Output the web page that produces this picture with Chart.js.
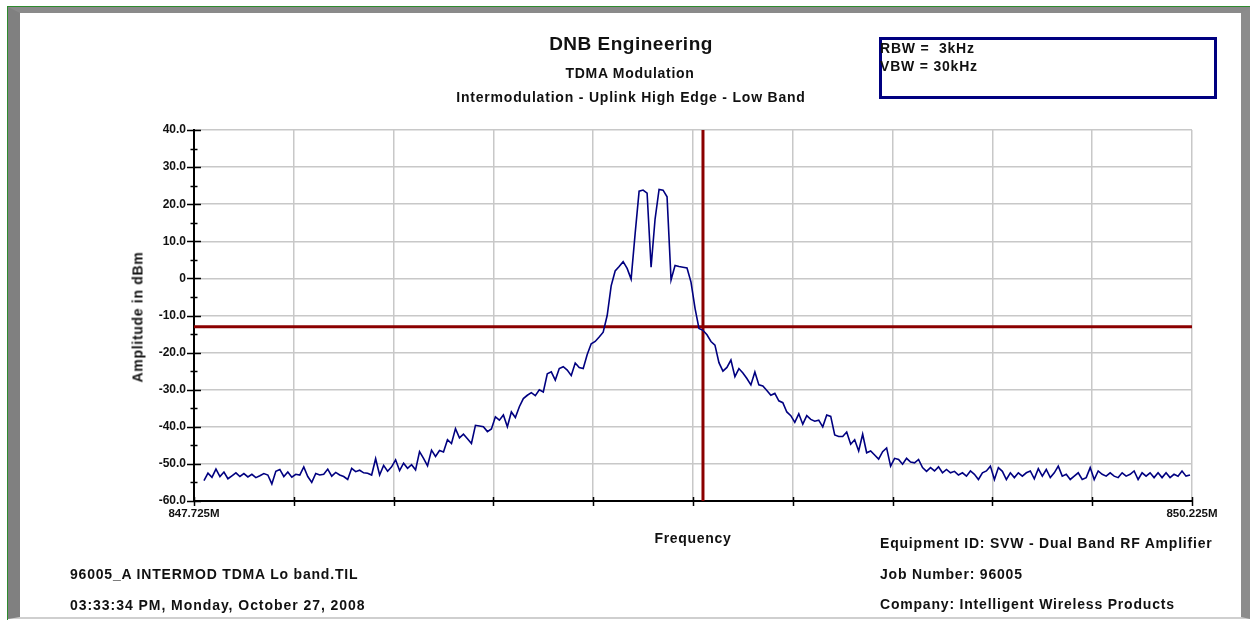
<!DOCTYPE html>
<html>
<head>
<meta charset="utf-8">
<title>DNB Engineering - TDMA Modulation</title>
<script src="https://cdn.jsdelivr.net/npm/chart.js@4.4.1/dist/chart.umd.min.js"></script>
<style>
  html, body { margin: 0; padding: 0; background: #fff; }
  body {
    width: 1250px; height: 620px; position: relative; overflow: hidden;
    font-family: "Liberation Sans", Arial, sans-serif; font-weight: bold; color: #111;
  }
  .edge { position: absolute; left: 7px; top: 6px; width: 1260px; height: 640px;
          border-left: 1px solid #2e8b2e; border-top: 1px solid #2e8b2e; }
  .panel { position: absolute; left: 8px; top: 7px; width: 1242px; height: 612px; box-sizing: border-box;
           border-left: 12px solid #808080; border-top: 6px solid #8a8a8a;
           border-right: 9px solid #8c8c8c; border-bottom: 2px solid #cfcfcf; background: #fff; }
  #plot { position: absolute; left: 0; top: 0; }
  .t { position: absolute; white-space: nowrap; font-size: 14px; line-height: 17px; letter-spacing: 0.8px; }
  .c { transform: translate(-50%, -50%); }
  .l { transform: translateY(-50%); }
  .title { font-size: 19px; line-height: 22px; letter-spacing: 0.5px; }
  .ytitle { transform: translate(-50%, -50%) rotate(-90deg); }
  .bwbox { position: absolute; left: 879px; top: 37px; width: 338px; height: 62px;
           box-sizing: border-box; border: 3px solid #000080; }
</style>
</head>
<body>
<div class="edge"></div>
<div class="panel"></div>
<canvas id="plot" width="1250" height="620"></canvas>

<div class="t c title" style="left:631px; top:44px;">DNB Engineering</div>
<div class="t c" style="left:630px; top:73px; letter-spacing:0.7px;">TDMA Modulation</div>
<div class="t c" style="left:631px; top:97px;">Intermodulation - Uplink High Edge - Low Band</div>

<div class="bwbox"></div>
<div class="t l" style="left:880px; top:48px;">RBW =&nbsp; 3kHz</div>
<div class="t l" style="left:880px; top:66px;">VBW = 30kHz</div>

<div class="t ytitle" style="left:138px; top:317px; letter-spacing:0.7px;">Amplitude in dBm</div>
<div class="t c" style="left:693px; top:538px; letter-spacing:0.7px;">Frequency</div>

<div class="t l" style="left:70px; top:574px;">96005_A INTERMOD TDMA Lo band.TIL</div>
<div class="t l" style="left:70px; top:605px; letter-spacing:0.95px;">03:33:34 PM, Monday, October 27, 2008</div>
<div class="t l" style="left:880px; top:543px;">Equipment ID: SVW - Dual Band RF Amplifier</div>
<div class="t l" style="left:880px; top:574px;">Job Number: 96005</div>
<div class="t l" style="left:880px; top:604px;">Company: Intelligent Wireless Products</div>

<script>
// Sweep: 847.75 MHz to 850.22 MHz, one reading every 10 kHz
var FREQ_START_MHZ = 847.75;
var FREQ_STEP_MHZ = 0.01;

var AMPLITUDE_DBM = [
  -54.5, -52.5, -53.6, -51.4, -53.4, -52.2, -54.0, -53.2, -52.4, -53.4,
  -52.6, -53.5, -52.8, -53.7, -53.2, -52.6, -53.0, -55.4, -52.0, -51.5,
  -53.4, -52.2, -53.6, -52.8, -53.0, -50.8, -53.4, -55.0, -52.6, -53.0,
  -52.8, -51.4, -53.3, -52.3, -53.0, -53.4, -54.2, -51.2, -52.1, -51.7,
  -52.4, -52.5, -53.0, -48.6, -53.0, -50.4, -52.0, -50.8, -48.9, -51.8,
  -49.8, -51.2, -50.2, -51.6, -46.7, -48.5, -50.5, -46.3, -48.0, -46.4,
  -46.8, -43.5, -44.5, -40.5, -43.0, -42.0, -43.2, -44.5, -39.6, -39.8,
  -40.0, -41.3, -40.6, -37.3, -38.2, -36.8, -40.0, -36.0, -37.5, -34.6,
  -32.4, -31.5,
  -30.8, -31.6, -30.0, -30.6, -25.7, -25.2, -27.4, -24.3, -23.8, -24.7,
  -26.2, -22.8, -24.0, -24.3, -20.5, -17.6, -17.0, -15.8, -14.5, -10.0,
  -2.0, 2.0, 3.2, 4.5, 2.7, -0.2, 12.0, 23.5, 23.8, 23.0,
  3.0, 16.0, 24.0, 23.8, 22.0, -0.4, 3.5, 3.2, 3.0, 2.8,
  -1.0, -8.0, -13.5, -14.0, -15.2, -17.0, -18.0, -22.7, -25.0, -24.0,
  -22.0, -26.5, -24.3, -25.5, -27.0, -28.7, -25.2, -28.7, -29.0, -30.2,
  -31.5, -31.0, -33.0, -33.5, -36.0, -37.0, -38.8, -36.5, -39.3, -37.0,
  -38.0, -38.5, -38.2, -40.0, -36.8, -37.2, -42.2, -42.6, -42.6, -41.4,
  -44.7, -43.5, -46.5,
  -42.0, -47.0, -46.5, -47.6, -48.7, -46.7, -45.7, -50.6, -48.5, -48.8,
  -50.1, -48.5, -49.5, -49.7, -48.8, -51.0, -52.0, -51.0, -51.9, -50.8,
  -52.4, -51.5, -52.4, -52.0, -53.0, -52.4, -53.3, -51.9, -52.8, -54.2,
  -52.4, -51.9, -50.6, -54.2, -51.0, -52.0, -54.2, -52.4, -53.7, -52.4,
  -53.3, -52.4, -51.9, -54.0, -51.3, -53.3, -51.5, -53.7, -52.4, -50.6,
  -53.3, -52.8, -54.2, -53.3, -52.4, -54.2, -53.7, -51.0, -54.2, -51.9,
  -52.8, -53.3, -52.4, -53.3, -53.7, -52.4, -53.3, -52.8, -51.9, -54.2,
  -52.4, -53.3, -52.4, -53.7, -52.4, -53.7, -52.4, -53.7, -52.8, -53.3,
  -51.9, -53.3, -53.0
];

var X_TICKS = [847.725, 847.975, 848.225, 848.475, 848.725, 848.975,
               849.225, 849.475, 849.725, 849.975, 850.225];
var X_TICK_LABELS = ["847.725M", "", "", "", "", "", "", "", "", "", "850.225M"];

var Y_MIN = -60;
var Y_MAX = 40;

// marker cross-hair
var MARKER_FREQ_MHZ = 849.0;
var MARKER_LEVEL_DBM = -13.0;

var TRACE = "#000080";
var MARKER = "#8b0000";
var GRID = "#c8c8c8";

var tracePoints = AMPLITUDE_DBM.map(function (v, i) {
  return { x: FREQ_START_MHZ + i * FREQ_STEP_MHZ, y: v };
});

// tick marks that straddle both axes (major every 10 dB, minor every 5 dB)
var axisTicks = {
  id: "axisTicks",
  afterDraw: function (chart) {
    var ctx = chart.ctx;
    var xs = chart.scales.x;
    var ys = chart.scales.y;
    var a = chart.chartArea;
    ctx.save();
    ctx.strokeStyle = "#000";
    ctx.lineWidth = 1.5;
    ctx.beginPath();
    for (var v = Y_MIN; v <= Y_MAX; v += 5) {
      var py = Math.round(ys.getPixelForValue(v)) + 0.5;
      var half = v % 10 === 0 ? 7 : 3.5;
      ctx.moveTo(a.left - half, py);
      ctx.lineTo(a.left + half, py);
    }
    X_TICKS.forEach(function (f) {
      var px = Math.round(xs.getPixelForValue(f)) + 0.5;
      ctx.moveTo(px, a.bottom - 4);
      ctx.lineTo(px, a.bottom + 5);
    });
    ctx.stroke();
    ctx.restore();
  },
};

Chart.defaults.font.family = "'Liberation Sans', Arial, sans-serif";
Chart.defaults.font.weight = "bold";
Chart.defaults.font.size = 11;
Chart.defaults.color = "#111";

new Chart(document.getElementById("plot"), {
  type: "line",
  data: {
    datasets: [
      {
        label: "Trace",
        data: tracePoints,
        borderColor: TRACE,
        borderWidth: 1.6,
        pointRadius: 0,
        tension: 0,
      },
      {
        label: "Marker level",
        data: [
          { x: X_TICKS[0], y: MARKER_LEVEL_DBM },
          { x: X_TICKS[X_TICKS.length - 1], y: MARKER_LEVEL_DBM },
        ],
        borderColor: MARKER,
        borderWidth: 3,
        pointRadius: 0,
      },
      {
        label: "Marker frequency",
        data: [
          { x: MARKER_FREQ_MHZ, y: Y_MIN },
          { x: MARKER_FREQ_MHZ, y: Y_MAX },
        ],
        borderColor: MARKER,
        borderWidth: 3,
        pointRadius: 0,
      },
    ],
  },
  options: {
    responsive: false,
    animation: false,
    events: [],
    layout: { padding: { top: 130, left: 134, right: 58, bottom: 89 } },
    plugins: {
      legend: { display: false },
      title: { display: false },
      tooltip: { enabled: false },
    },
    scales: {
      x: {
        type: "linear",
        min: X_TICKS[0],
        max: X_TICKS[X_TICKS.length - 1],
        afterBuildTicks: function (scale) {
          scale.ticks = X_TICKS.map(function (v) {
            return { value: v };
          });
        },
        afterFit: function (scale) {
          scale.height = 30;
        },
        ticks: {
          autoSkip: false,
          maxRotation: 0,
          padding: 6,
          color: "#111",
          font: { size: 11.5 },
          callback: function (v, i) {
            return X_TICK_LABELS[i];
          },
        },
        grid: { color: GRID, lineWidth: 1.5, drawTicks: false },
        border: { display: true, color: "#000", width: 2 },
      },
      y: {
        min: Y_MIN,
        max: Y_MAX,
        afterFit: function (scale) {
          scale.width = 60;
        },
        ticks: {
          stepSize: 10,
          padding: 8,
          color: "#111",
          font: { size: 12 },
          callback: function (v) {
            return v === 0 ? "0" : v.toFixed(1);
          },
        },
        grid: { color: GRID, lineWidth: 1.5, drawTicks: false },
        border: { display: true, color: "#000", width: 2 },
      },
    },
  },
  plugins: [axisTicks],
});
</script>
</body>
</html>
